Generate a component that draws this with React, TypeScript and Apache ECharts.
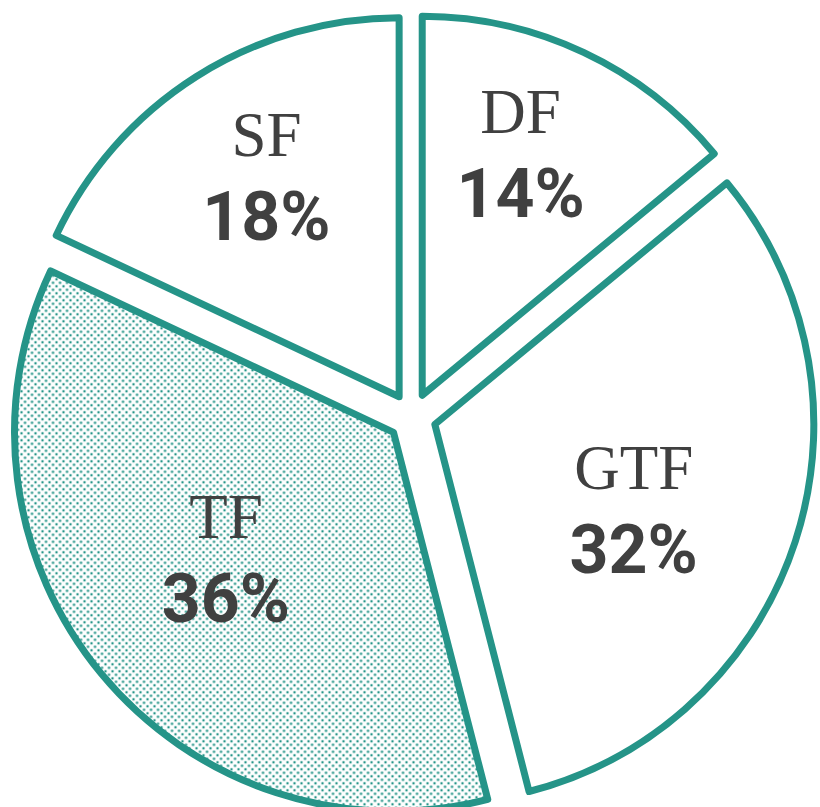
import React, { useEffect, useRef } from 'react';
import * as echarts from 'echarts';

const categories = ['DF', 'GTF', 'TF', 'SF'];
const shares = [14, 32, 36, 18];
const dotted = [false, false, true, false];

const TEAL = '#259488';
const TEXT = '#404040';
const CX = 412;
const CY = 417;
const R = 379;
const OFFSET = 24;
const LABEL_K = 1.05;
// small per-slice label nudges (layout only)
const LABEL_NUDGE = [
  [-11, -9],
  [-13, 17],
  [-4, -8],
  [2, -7],
];

function makeDots(): HTMLCanvasElement {
  const c = document.createElement('canvas');
  c.width = 7;
  c.height = 7;
  const g = c.getContext('2d')!;
  g.fillStyle = TEAL;
  [[1.5, 1.5], [5, 5]].forEach(([x, y]) => {
    g.beginPath();
    g.arc(x, y, 1.25, 0, Math.PI * 2);
    g.fill();
  });
  return c;
}

export default function App() {
  const ref = useRef<HTMLDivElement>(null);
  useEffect(() => {
    if (!ref.current) return;
    const chart = echarts.init(ref.current, undefined, { renderer: 'svg' });
    const dots = makeDots();
    const pattern: any = { image: dots, repeat: 'repeat', imageWidth: 7, imageHeight: 7 };

    const total = shares.reduce((a, b) => a + b, 0);
    let acc = 0;
    // label anchor before the explode offset (the offset is added by the selected state)
    const targets = shares.map((v, i) => {
      const a = (v / total) * Math.PI * 2;
      const mid = acc + a / 2;
      acc += a;
      const centroid = (4 * R * Math.sin(a / 2)) / (3 * a);
      const r = LABEL_K * centroid;
      return [CX + r * Math.sin(mid) + LABEL_NUDGE[i][0], CY - r * Math.cos(mid) + LABEL_NUDGE[i][1]];
    });

    const data = categories.map((name, i) => {
      const style = {
        color: dotted[i] ? pattern : '#ffffff',
        borderColor: TEAL,
        borderWidth: 7,
        borderJoin: 'round',
      };
      return {
        name,
        value: shares[i],
        selected: true,
        itemStyle: style,
        select: { itemStyle: style },
      };
    });

    chart.setOption({
      animation: false,
      backgroundColor: '#ffffff',
      series: [
        {
          type: 'pie',
          center: [CX, CY],
          radius: [0, R],
          startAngle: 90,
          clockwise: true,
          selectedMode: 'multiple',
          selectedOffset: OFFSET,
          avoidLabelOverlap: false,
          emphasis: { disabled: true },
          label: {
            show: true,
            position: 'inside',
            formatter: '{n|{b}}\n{p|{d}%}',
            rich: {
              n: {
                fontFamily: "'Liberation Serif', 'DejaVu Serif', serif",
                fontSize: 63,
                color: TEXT,
                lineHeight: 82,
              },
              p: {
                fontFamily: "Roboto, 'DejaVu Sans Condensed', sans-serif",
                fontWeight: 'bold',
                fontSize: 68,
                color: TEXT,
                lineHeight: 82,
              },
            },
          },
          labelLine: { show: false },
          labelLayout: (params: any) => {
            const t = targets[params.dataIndex];
            const rect = params.labelRect;
            return {
              dx: t[0] - (rect.x + rect.width / 2),
              dy: t[1] - (rect.y + rect.height / 2),
            };
          },
          data,
        },
      ],
    });
    return () => chart.dispose();
  }, []);
  return (
    <div
      ref={ref}
      style={{ position: 'absolute', left: 0, top: 0, width: 820, height: 807, background: '#fff' }}
    />
  );
}
